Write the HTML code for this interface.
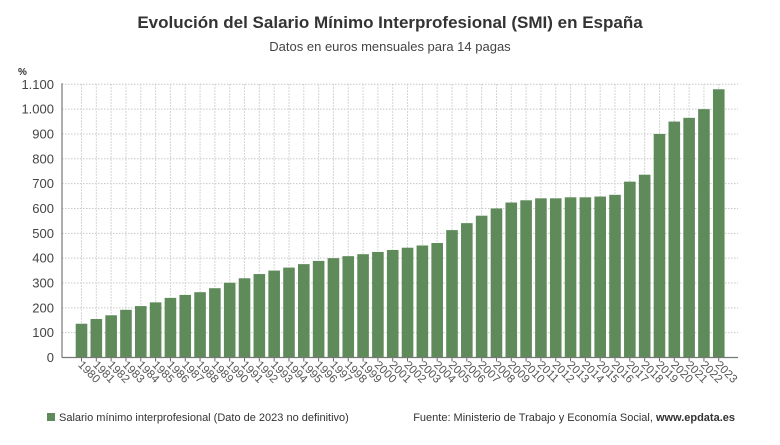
<!DOCTYPE html>
<html><head><meta charset="utf-8"><style>
body{margin:0;background:#fff;font-family:"Liberation Sans",sans-serif;}
</style></head><body>
<div style="width:780px;height:440px;position:relative;">
<svg id="c" width="780" height="440" xmlns="http://www.w3.org/2000/svg">
<text x="390" y="28" text-anchor="middle" font-size="17" font-weight="bold" fill="#333">Evolución del Salario Mínimo Interprofesional (SMI) en España</text>
<text x="390" y="51" text-anchor="middle" font-size="13" fill="#444">Datos en euros mensuales para 14 pagas</text>
<text x="18" y="75" font-size="10" font-weight="bold" fill="#333">%</text>
<g id="grid"></g><g id="bars"></g><g id="axes"></g>
<rect x="47" y="413" width="8" height="8" fill="#5f8b5b"/>
<text x="59" y="421" font-size="11" fill="#333">Salario mínimo interprofesional (Dato de 2023 no definitivo)</text>
<text x="735" y="421" text-anchor="end" font-size="11" fill="#333">Fuente: Ministerio de Trabajo y Economía Social, <tspan font-weight="bold">www.epdata.es</tspan></text>
</svg>
</div>
<script>
const years=[1980,1981,1982,1983,1984,1985,1986,1987,1988,1989,1990,1991,1992,1993,1994,1995,1996,1997,1998,1999,2000,2001,2002,2003,2004,2005,2006,2007,2008,2009,2010,2011,2012,2013,2014,2015,2016,2017,2018,2019,2020,2021,2022,2023];
const values=[136,155,170,192,207,222,240,252,263,279,301,319,336,350,362,376,389,400,408,416,425,433,442,451,461,513,541,571,600,624,633,641,641,645,645,648,655,708,736,900,950,965,1000,1080];
const yTicks=[0,100,200,300,400,500,600,700,800,900,1000,1100];
const yTickLabels=["0","100","200","300","400","500","600","700","800","900","1.000","1.100"];
const NS="http://www.w3.org/2000/svg";
const X0=62,X1=738,Y0=357.5,YT=84.3,MAX=1100;
const step=14.82,bw=11.6,first=75.7;
function y(v){return Y0-(v/MAX)*(Y0-YT);}
function x(i){return first+i*step;}
function mk(t,a,p){const e=document.createElementNS(NS,t);for(const k in a)e.setAttribute(k,a[k]);p.appendChild(e);return e;}
const g=document.getElementById('grid'),b=document.getElementById('bars'),ax=document.getElementById('axes');
yTicks.forEach((v,i)=>{
 const l=mk('line',{x1:X0,x2:X1,y1:y(v),y2:y(v),stroke:'#c8c8c8','stroke-dasharray':'1.5,1.5','stroke-width':1},g);
 
 
 const t=mk('text',{x:54,y:y(v)+4.5,'text-anchor':'end','font-size':13,fill:'#444'},ax);
 t.textContent=yTickLabels[i];
 
 
});
years.forEach((yr,i)=>{
 const cx=x(i)+bw/2;
 const gl=mk('line',{x1:cx,x2:cx,y1:YT,y2:Y0,stroke:'#c8c8c8','stroke-dasharray':'1.5,1.5','stroke-width':1},g);
 
 
 const r=mk('rect',{x:x(i),y:y(values[i]),width:bw,height:Y0-y(values[i]),fill:'#5f8b5b'},b);
 
 
 const tk=mk('line',{x1:cx,x2:cx,y1:Y0,y2:Y0+4,stroke:'#666'},ax);
 
 
 const t=mk('text',{x:0,y:0,'font-size':11.5,fill:'#555',transform:`translate(${cx-4},${Y0+8}) rotate(45)`},ax);
 t.textContent=yr;
 
 
});
const a1=mk('line',{x1:X0,x2:X0,y1:YT-1,y2:Y0,stroke:'#777','stroke-width':1.2},ax);


const a2=mk('line',{x1:X0,x2:X1,y1:Y0,y2:Y0,stroke:'#777','stroke-width':1.2},ax);


</script>
</body></html>
